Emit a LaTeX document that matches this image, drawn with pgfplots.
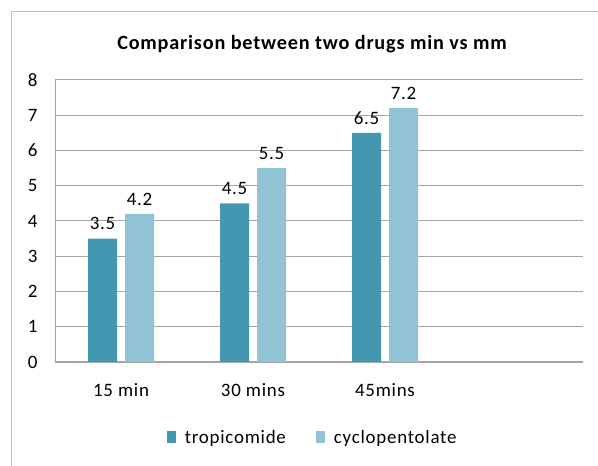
\documentclass[border=0pt]{standalone}
\usepackage{fontspec}
\setmainfont{Carlito}[LetterSpace=4]
\usepackage{pgfplots}
\pgfplotsset{compat=1.18}
\definecolor{tropi}{RGB}{67,151,176}
\definecolor{cyclo}{RGB}{147,196,213}
\definecolor{gridc}{RGB}{165,165,165}
\definecolor{framec}{RGB}{190,190,190}
\begin{document}
\begin{tikzpicture}[x=1bp,y=1bp]
\useasboundingbox (0,0) rectangle (598,466);
\fill[white] (0,0) rectangle (598,466);
\draw[line width=1.5bp, framec] (11.5,-10) -- (11.5,454.5) -- (610,454.5);
\node[font=\fontsize{20.3}{24}\selectfont\bfseries, anchor=base] at (312,416) {Comparison between two drugs min vs mm};
\begin{axis}[
  at={(55bp,104bp)}, anchor=south west, scale only axis,
  width=528bp, height=282bp,
  xmin=-0.5, xmax=3.5, ymin=0, ymax=8,
  ytick={0,...,8}, xtick={0,1,2}, xticklabels={15 min,30 mins,45mins},
  major tick length=0pt,
  ymajorgrids, grid style={gridc, line width=1bp},
  axis x line*=bottom, axis y line*=left,
  axis line style={-, gridc, line width=1bp},
  x axis line style={line width=1.5bp},
  /pgf/number format/assume math mode=true,
  tick label style={font=\fontsize{19}{22}\selectfont},
  yticklabel style={xshift=-14bp},
  xticklabel style={yshift=-18bp},
  ybar, bar width=29bp,
  nodes near coords,
  nodes near coords style={font=\fontsize{19}{22}\selectfont, anchor=south, yshift=5bp},
  legend columns=2,
  legend style={at={(0.488,-0.27)}, anchor=center, draw=none, fill=none,
    font=\fontsize{19}{22}\selectfont,
    /tikz/every odd column/.append style={column sep=7bp},
    /tikz/every even column/.append style={column sep=28bp}},
  legend image code/.code={\fill[#1] (0bp,-5bp) rectangle (9bp,7bp);},
]
\addplot[fill=tropi, draw=none, bar shift=-18.5bp] coordinates {(0,3.5) (1,4.5) (2,6.5)};
\addplot[fill=cyclo, draw=none, bar shift=18.5bp] coordinates {(0,4.2) (1,5.5) (2,7.2)};
\legend{tropicomide, cyclopentolate}
\end{axis}
\end{tikzpicture}
\end{document}
